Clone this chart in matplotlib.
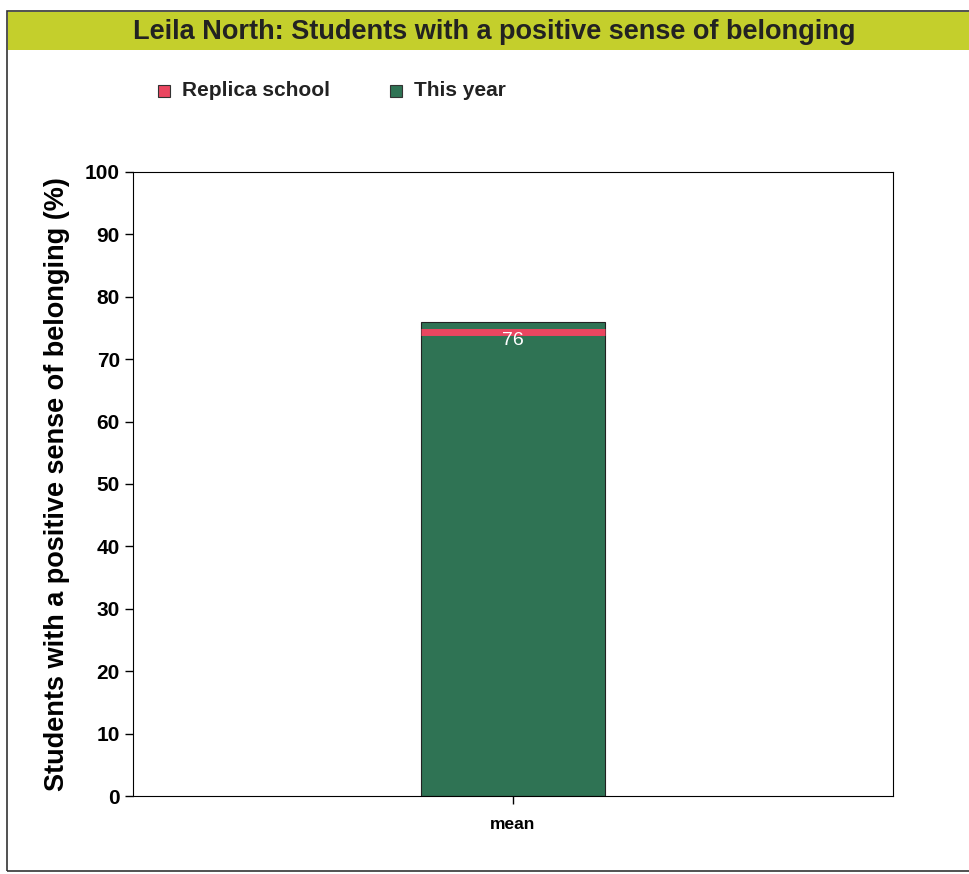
import matplotlib.pyplot as plt
from matplotlib.patches import Rectangle

categories = ['mean']
this_year = [76]
replica_school = [74.3]
yticks = [0, 10, 20, 30, 40, 50, 60, 70, 80, 90, 100]

green = '#2f7354'
red = '#ea4660'
band = '#c4cf2c'

plt.rcParams['font.family'] = ['Liberation Sans', 'DejaVu Sans']
plt.rcParams['font.weight'] = 'bold'

fig = plt.figure(figsize=(9.7, 8.74), dpi=100)

# outer frame and title band
fig.patches.append(Rectangle((0.007, 0.003), 1.0, 0.984, transform=fig.transFigure,
                             fill=False, edgecolor='#333333', lw=1.2))
fig.patches.append(Rectangle((0.008, 0.943), 1.0, 0.043, transform=fig.transFigure,
                             facecolor=band, edgecolor='none'))
fig.text(0.51, 0.963, 'Leila North: Students with a positive sense of belonging',
         ha='center', va='center', fontsize=19.5, color='#222222')

ax = fig.add_axes([133/970, 1 - 796/874, 760/970, 624/874])

x = range(len(categories))
ax.bar(x, this_year, width=0.485, color=green, edgecolor='#222222', lw=0.8, label='This year')
ax.hlines(replica_school, [i - 0.2425 for i in x], [i + 0.2425 for i in x],
          colors=red, lw=5, label='Replica school')
for i, v in zip(x, this_year):
    ax.text(i, v - 1.6, str(v), ha='center', va='top', color='white', fontsize=14,
            fontweight='normal')

ax.set_xlim(-1, 1)
ax.set_ylim(0, 100)
ax.set_yticks(yticks)
ax.set_xticks(list(x))
ax.set_xticklabels(categories, fontsize=12.5)
ax.tick_params(axis='y', labelsize=15, length=6, width=1)
ax.tick_params(axis='x', length=6, width=1, pad=9)
ax.set_ylabel('Students with a positive sense of belonging (%)', fontsize=19.5,
              fontweight='bold', labelpad=11)

# legend drawn as markers and texts in figure coordinates
for px, label, col in [(164, 'Replica school', red), (396, 'This year', green)]:
    fig.patches.append(Rectangle((px/970 - 0.006, 1 - 97/874), 0.012, 0.0135,
                                 transform=fig.transFigure, facecolor=col,
                                 edgecolor='#333333', lw=0.8))
    fig.text(px/970 + 0.0185, 1 - 90/874, label, ha='left', va='center',
             fontsize=15, color='#222222')

fig.savefig('out.png', dpi=100)
